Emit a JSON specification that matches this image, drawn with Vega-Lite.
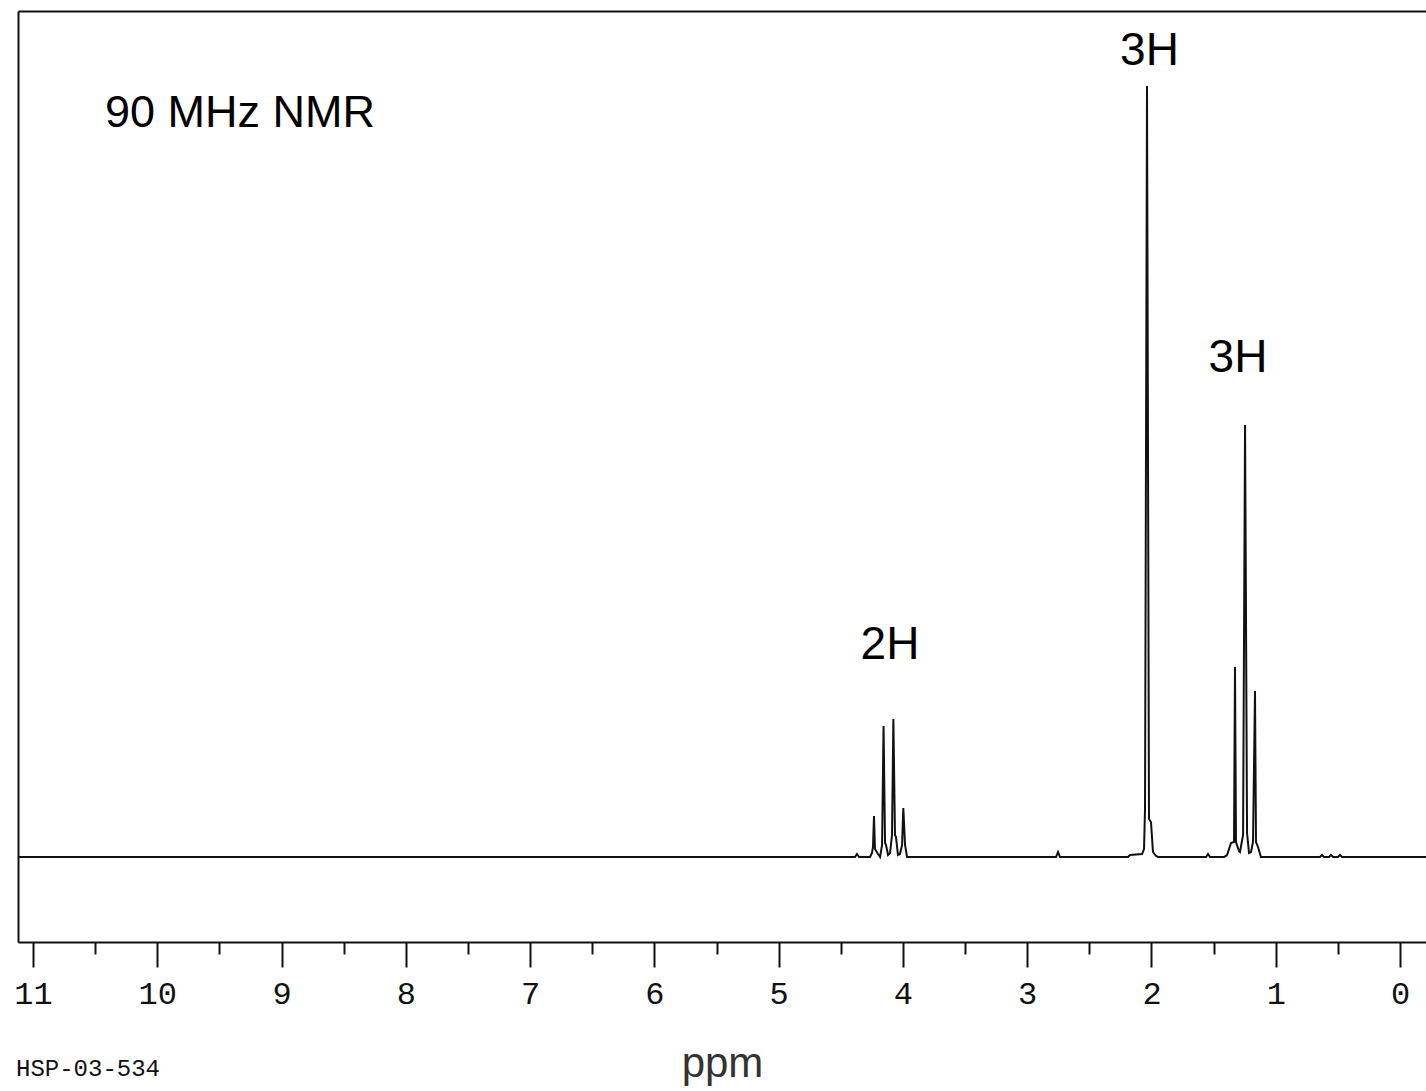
{
  "$schema": "https://vega.github.io/schema/vega-lite/v6.json",
  "width": 1408,
  "height": 931,
  "autosize": "none",
  "padding": {"left": 18, "top": 11, "right": 0, "bottom": 149},
  "background": "white",
  "title": {"text": "HSP-03-534", "orient": "bottom", "anchor": "start", "frame": "group", "font": "Liberation Mono", "fontSize": 24, "fontWeight": "normal", "color": "#111", "baseline": "alphabetic", "offset": -8, "dx": -2},
  "datasets": {
    "spectrum": [
      {"ppm": 11.121, "i": 0}, {"ppm": 4.386, "i": 0}, {"ppm": 4.370, "i": 3}, {"ppm": 4.353, "i": 0},
      {"ppm": 4.265, "i": 0}, {"ppm": 4.249, "i": 4}, {"ppm": 4.241, "i": 10}, {"ppm": 4.233, "i": 41},
      {"ppm": 4.225, "i": 8}, {"ppm": 4.201, "i": 3}, {"ppm": 4.184, "i": 0}, {"ppm": 4.168, "i": 12},
      {"ppm": 4.156, "i": 131}, {"ppm": 4.144, "i": 14}, {"ppm": 4.136, "i": 12}, {"ppm": 4.120, "i": 2},
      {"ppm": 4.104, "i": 4}, {"ppm": 4.088, "i": 22}, {"ppm": 4.077, "i": 138}, {"ppm": 4.064, "i": 22},
      {"ppm": 4.056, "i": 20}, {"ppm": 4.040, "i": 2}, {"ppm": 4.024, "i": 3}, {"ppm": 4.007, "i": 12},
      {"ppm": 3.997, "i": 49}, {"ppm": 3.983, "i": 12}, {"ppm": 3.967, "i": 0},
      {"ppm": 2.768, "i": 0}, {"ppm": 2.752, "i": 5}, {"ppm": 2.736, "i": 0},
      {"ppm": 2.189, "i": 0}, {"ppm": 2.173, "i": 2}, {"ppm": 2.076, "i": 3}, {"ppm": 2.060, "i": 8},
      {"ppm": 2.052, "i": 48}, {"ppm": 2.036, "i": 771}, {"ppm": 2.020, "i": 38}, {"ppm": 2.004, "i": 35},
      {"ppm": 1.988, "i": 5}, {"ppm": 1.963, "i": 1}, {"ppm": 1.947, "i": 0},
      {"ppm": 1.561, "i": 0}, {"ppm": 1.545, "i": 3}, {"ppm": 1.529, "i": 0},
      {"ppm": 1.416, "i": 0}, {"ppm": 1.392, "i": 2}, {"ppm": 1.360, "i": 14}, {"ppm": 1.336, "i": 15},
      {"ppm": 1.328, "i": 190}, {"ppm": 1.320, "i": 15}, {"ppm": 1.296, "i": 6}, {"ppm": 1.288, "i": 5},
      {"ppm": 1.263, "i": 22}, {"ppm": 1.247, "i": 432}, {"ppm": 1.231, "i": 24}, {"ppm": 1.215, "i": 4},
      {"ppm": 1.199, "i": 5}, {"ppm": 1.183, "i": 15}, {"ppm": 1.167, "i": 166}, {"ppm": 1.159, "i": 15},
      {"ppm": 1.143, "i": 10}, {"ppm": 1.119, "i": 0},
      {"ppm": 0.644, "i": 0}, {"ppm": 0.628, "i": 2}, {"ppm": 0.612, "i": 0},
      {"ppm": 0.571, "i": 0}, {"ppm": 0.555, "i": 2}, {"ppm": 0.539, "i": 0},
      {"ppm": 0.499, "i": 0}, {"ppm": 0.483, "i": 2}, {"ppm": 0.467, "i": 0},
      {"ppm": -0.209, "i": 0}
    ],
    "peaklabels": [
      {"ppm": 2.016, "i": 792, "text": "3H"},
      {"ppm": 1.304, "i": 485, "text": "3H"},
      {"ppm": 4.104, "i": 198, "text": "2H"}
    ],
    "caption": [
      {"ppm": 10.421, "i": 730, "text": "90 MHz NMR"}
    ]
  },
  "layer": [
    {
      "data": {"name": "spectrum"},
      "mark": {"type": "line", "color": "#111", "strokeWidth": 2, "interpolate": "linear"},
      "encoding": {
        "x": {
          "field": "ppm", "type": "quantitative",
          "scale": {"domain": [-0.209, 11.121], "reverse": true, "nice": false, "zero": false},
          "axis": {
            "orient": "bottom",
            "title": "ppm",
            "values": [0, 0.5, 1, 1.5, 2, 2.5, 3, 3.5, 4, 4.5, 5, 5.5, 6, 6.5, 7, 7.5, 8, 8.5, 9, 9.5, 10, 10.5, 11],
            "labelExpr": "datum.value % 1 === 0 ? format(datum.value, 'd') : ''",
            "tickSize": {"condition": {"test": "datum.value % 1 === 0", "value": 25}, "value": 12},
            "tickWidth": 2,
            "tickColor": "#111",
            "domainColor": "#111",
            "domainWidth": 2,
            "grid": false,
            "labelFont": "Liberation Mono",
            "labelFontSize": 32,
            "labelColor": "#111",
            "labelPadding": 11,
            "labelFlush": false,
            "labelOverlap": false,
            "titleFont": "Liberation Sans",
            "titleFontSize": 42,
            "titleFontWeight": "normal",
            "titleColor": "#333",
            "titlePadding": 34
          }
        },
        "y": {
          "field": "i", "type": "quantitative",
          "scale": {"domain": [-85, 846], "nice": false, "zero": false},
          "axis": {"orient": "left", "domain": true, "domainColor": "#111", "domainWidth": 2, "ticks": false, "labels": false, "grid": false, "title": null}
        }
      }
    },
    {
      "data": {"name": "peaklabels"},
      "mark": {"type": "text", "align": "center", "baseline": "alphabetic", "font": "Liberation Sans", "fontSize": 46, "color": "black"},
      "encoding": {
        "x": {"field": "ppm", "type": "quantitative", "axis": {"orient": "top", "domain": true, "domainColor": "#111", "domainWidth": 2, "ticks": false, "labels": false, "grid": false, "title": null}},
        "y": {"field": "i", "type": "quantitative", "axis": null},
        "text": {"field": "text"}
      }
    },
    {
      "data": {"name": "caption"},
      "mark": {"type": "text", "align": "left", "baseline": "alphabetic", "font": "Liberation Sans", "fontSize": 45, "color": "black"},
      "encoding": {
        "x": {"field": "ppm", "type": "quantitative", "axis": null},
        "y": {"field": "i", "type": "quantitative", "axis": null},
        "text": {"field": "text"}
      }
    }
  ],
  "resolve": {"axis": {"x": "independent", "y": "independent"}},
  "config": {"view": {"stroke": null}}
}
